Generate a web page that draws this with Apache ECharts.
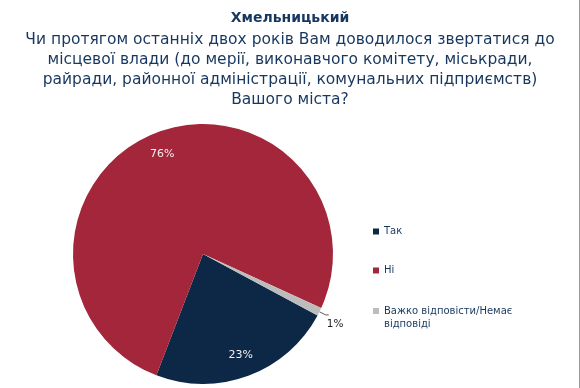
<!DOCTYPE html>
<html>
<head>
<meta charset="utf-8">
<script src="https://cdn.jsdelivr.net/npm/echarts@6/dist/echarts.min.js"></script>
<style>html,body{margin:0;padding:0;background:#fff}#c{width:580px;height:388px}</style>
</head>
<body>
<div id="c"></div>
<script>
const cityTitle = 'Хмельницький';
const questionLines = [
  'Чи протягом останніх двох років Вам доводилося звертатися до',
  'місцевої влади (до мерії, виконавчого комітету, міськради,',
  'райради, районної адміністрації, комунальних підприємств)',
  'Вашого міста?'
];
const categories = ['Так', 'Ні', 'Важко відповісти/Немає відповіді'];
const values = [23, 76, 1];

const palette = ['#0D2847', '#A3263A', '#BCBCBC'];
const navy = '#17375E';
const font = 'DejaVu Sans';

const chart = echarts.init(document.getElementById('c'), null, {renderer: 'canvas'});

const mainData = categories.map((n, i) => ({
  name: n,
  value: values[i],
  itemStyle: {color: palette[i]},
  label: values[i] < 5 ? {show: true} : {show: false},
  labelLine: values[i] < 5 ? {show: true} : {show: false}
}));
const labelData = categories.map((n, i) => ({
  name: n,
  value: values[i],
  label: {show: values[i] >= 5}
}));

chart.setOption({
  animation: false,
  backgroundColor: '#ffffff',
  title: {
    left: 'center',
    top: 6,
    text: cityTitle,
    textStyle: {fontFamily: font, fontSize: 14, fontWeight: 'bold', color: navy},
    subtext: questionLines.join('\n'),
    subtextStyle: {fontFamily: font, fontSize: 15.5, color: navy, lineHeight: 20},
    itemGap: 5
  },
  graphic: [{
    type: 'rect',
    right: 0,
    top: 0,
    shape: {width: 1, height: 388},
    style: {fill: '#9a9a9a'},
    silent: true
  }],
  legend: [{
    orient: 'vertical',
    left: 373,
    top: 225,
    padding: 0,
    icon: 'rect',
    itemWidth: 6,
    itemHeight: 6,
    itemGap: 26,
    selectedMode: false,
    data: categories.slice(0, 2),
    textStyle: {fontFamily: font, fontSize: 10, color: navy, lineHeight: 13}
  }, {
    orient: 'vertical',
    left: 373,
    top: 291.5,
    padding: 0,
    icon: 'rect',
    itemWidth: 6,
    itemHeight: 6,
    selectedMode: false,
    data: categories.slice(2),
    formatter: n => '\n' + n.replace('/Немає ', '/Немає\n'),
    textStyle: {fontFamily: font, fontSize: 10, color: navy, lineHeight: 13}
  }],
  series: [{
    type: 'pie',
    center: [203, 254],
    radius: 130,
    startAngle: -28.2,
    clockwise: true,
    silent: true,
    avoidLabelOverlap: false,
    label: {
      position: 'outside',
      formatter: '{c}%',
      fontFamily: font,
      fontSize: 10.5,
      color: '#222'
    },
    labelLine: {length: 7, length2: 3, lineStyle: {color: '#333', width: 0.8}},
    labelLayout: p => (p.dataIndex === 2 ? {dx: -7, dy: 9} : {}),
    data: mainData
  }, {
    type: 'pie',
    center: [203, 254],
    radius: [80, 130],
    startAngle: -28.2,
    clockwise: true,
    silent: true,
    itemStyle: {color: 'rgba(0,0,0,0)'},
    label: {
      position: 'inside',
      formatter: '{c}%',
      fontFamily: font,
      fontSize: 11,
      color: '#f4eef0'
    },
    labelLine: {show: false},
    data: labelData
  }]
});
</script>
</body>
</html>
